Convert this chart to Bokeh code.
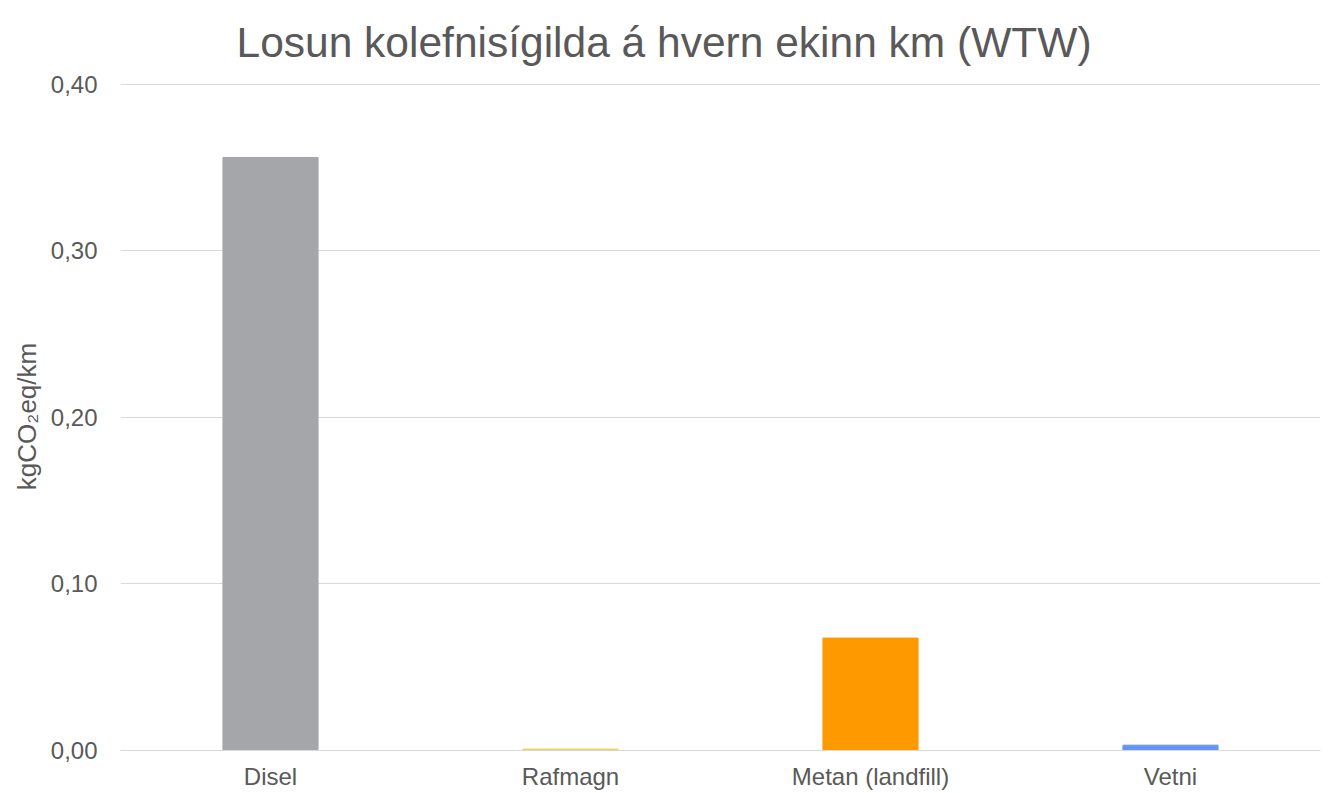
from bokeh.plotting import figure
from bokeh.models import ColumnDataSource, FactorRange, Range1d, FixedTicker, CustomJSTickFormatter
from bokeh.embed import file_html
from bokeh.resources import INLINE

categories = ["Disel", "Rafmagn", "Metan (landfill)", "Vetni"]
values = [0.356, 0.0008, 0.0675, 0.0032]
colors = ["#A5A6A9", "#F2C84B", "#FF9900", "#6495F5"]
y_ticks = [0.0, 0.1, 0.2, 0.3, 0.4]

FONT = "Liberation Sans"
TXT = "#595959"

src = ColumnDataSource(dict(cat=categories, val=values, color=colors))

p = figure(width=1325, height=792, x_range=FactorRange(*categories, range_padding=0),
           y_range=Range1d(0, 0.401), output_backend="svg", toolbar_location=None,
           min_border_left=120, min_border_right=5, min_border_top=82, min_border_bottom=40)

p.vbar(x="cat", top="val", width=0.317, color="color", source=src)

p.title.text = "Losun kolefnisígilda á hvern ekinn km (WTW)"
p.title.text_font = FONT
p.title.text_font_size = "42.5px"
p.title.text_font_style = "normal"
p.title.text_color = TXT
p.title.align = "left"
p.title.offset = 116
p.title.vertical_align = "top"
p.title.standoff = 29

p.outline_line_color = None
p.xgrid.grid_line_color = None
p.ygrid.grid_line_color = "#D9D9D9"
p.ygrid.grid_line_width = 1

p.yaxis.ticker = FixedTicker(ticks=y_ticks)
p.yaxis.formatter = CustomJSTickFormatter(code="return tick.toFixed(2).replace('.', ',');")
p.yaxis.axis_line_color = None
p.yaxis.major_tick_line_color = None
p.yaxis.minor_tick_line_color = None
p.yaxis.major_label_text_font = FONT
p.yaxis.major_label_text_font_size = "24px"
p.yaxis.major_label_text_color = TXT
p.yaxis.major_label_standoff = 17
p.yaxis.axis_label = "kgCO₂eq/km"
p.yaxis.axis_label_text_font = FONT
p.yaxis.axis_label_text_font_size = "26px"
p.yaxis.axis_label_text_font_style = "normal"
p.yaxis.axis_label_text_color = TXT
p.yaxis.axis_label_standoff = 6

p.xaxis.axis_line_color = "#D9D9D9"
p.xaxis.major_tick_line_color = None
p.xaxis.minor_tick_line_color = None
p.xaxis.major_label_text_font = FONT
p.xaxis.major_label_text_font_size = "24px"
p.xaxis.major_label_text_color = TXT
p.xaxis.major_label_standoff = 6

open("out.html", "w").write(file_html(p, INLINE))
